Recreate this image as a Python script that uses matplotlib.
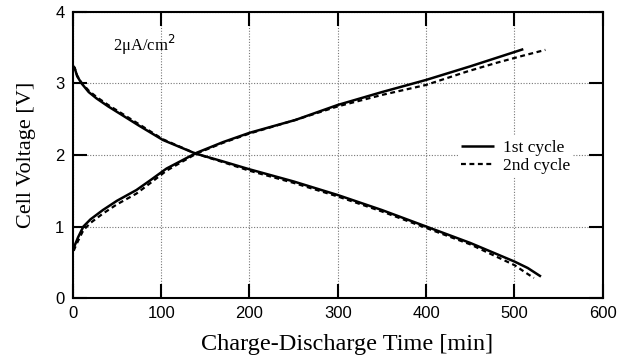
import matplotlib
matplotlib.use("Agg")
import matplotlib.pyplot as plt

# charge curves (rising)
t_chg1 = [1, 3, 6, 12, 20, 34, 50, 72, 87, 106, 140, 170, 200, 252, 300, 350, 400, 450, 510]
v_chg1 = [0.70, 0.76, 0.85, 1.00, 1.10, 1.23, 1.36, 1.51, 1.64, 1.81, 2.03, 2.18, 2.31, 2.49, 2.70, 2.88, 3.05, 3.24, 3.48]
t_chg2 = [1, 3, 6, 12, 20, 34, 50, 72, 87, 106, 140, 170, 200, 252, 300, 350, 400, 447, 480, 510, 535]
v_chg2 = [0.66, 0.72, 0.80, 0.95, 1.05, 1.18, 1.31, 1.46, 1.60, 1.78, 2.02, 2.17, 2.30, 2.49, 2.68, 2.84, 2.98, 3.17, 3.29, 3.39, 3.47]

# discharge curves (falling)
t_dis1 = [0, 2, 5, 10, 18, 27, 40, 53, 75, 102, 139, 170, 200, 250, 300, 350, 400, 450, 500, 515, 530]
v_dis1 = [3.25, 3.22, 3.10, 3.00, 2.88, 2.79, 2.68, 2.58, 2.41, 2.21, 2.02, 1.91, 1.80, 1.63, 1.44, 1.23, 1.00, 0.77, 0.51, 0.42, 0.30]
t_dis2 = [0, 2, 5, 10, 18, 27, 40, 53, 75, 102, 139, 170, 200, 250, 300, 350, 400, 450, 500, 512, 522]
v_dis2 = [3.24, 3.22, 3.11, 3.01, 2.90, 2.81, 2.70, 2.60, 2.43, 2.22, 2.02, 1.90, 1.78, 1.61, 1.42, 1.21, 0.98, 0.75, 0.46, 0.36, 0.28]

xticks = [0, 100, 200, 300, 400, 500, 600]
yticks = [0, 1, 2, 3, 4]

fig = plt.figure(figsize=(6.17, 3.63), dpi=100)
ax = fig.add_axes([0.118, 0.179, 0.859, 0.788])

ax.plot(t_chg1, v_chg1, color="black", lw=1.8, solid_capstyle="butt")
ax.plot(t_dis1, v_dis1, color="black", lw=1.8, solid_capstyle="butt", label="1st cycle")
ax.plot(t_chg2, v_chg2, color="black", lw=1.6, linestyle=(0, (2.2, 1.6)))
ax.plot(t_dis2, v_dis2, color="black", lw=1.6, linestyle=(0, (2.2, 1.6)), label="2nd cycle")

ax.set_xlim(0, 600)
ax.set_ylim(0, 4)
ax.set_xticks(xticks)
ax.set_yticks(yticks)
ax.grid(True, color="#777777", linestyle=(0, (1, 1.5)), linewidth=0.8)
ax.tick_params(direction="in", length=10, width=1.5, top=True, right=True,
               labelsize=12, pad=6)
for lab in ax.get_xticklabels() + ax.get_yticklabels():
    lab.set_fontfamily("Liberation Sans")
for s in ax.spines.values():
    s.set_linewidth(1.5)

ax.set_xlabel("Charge-Discharge Time [min]", family="Liberation Serif", fontsize=17.5, labelpad=9)
ax.xaxis.label.set_x(0.517)
ax.set_ylabel("Cell Voltage [V]", family="Liberation Serif", fontsize=16, labelpad=14)

ax.text(0.075, 0.885, "2\u03bcA/cm$^2$", transform=ax.transAxes, family="Liberation Serif",
        fontsize=12, ha="left", va="center")

leg = ax.legend(loc="center left", bbox_to_anchor=(0.726, 0.494), frameon=True,
                prop={"family": "Liberation Serif", "size": 12.5},
                handlelength=1.9, handletextpad=0.5, labelspacing=0.1,
                borderpad=0.2, borderaxespad=0)
leg.get_frame().set_edgecolor("none")
leg.get_frame().set_facecolor("white")
leg.get_frame().set_alpha(1)

fig.savefig("out.png", dpi=100)
